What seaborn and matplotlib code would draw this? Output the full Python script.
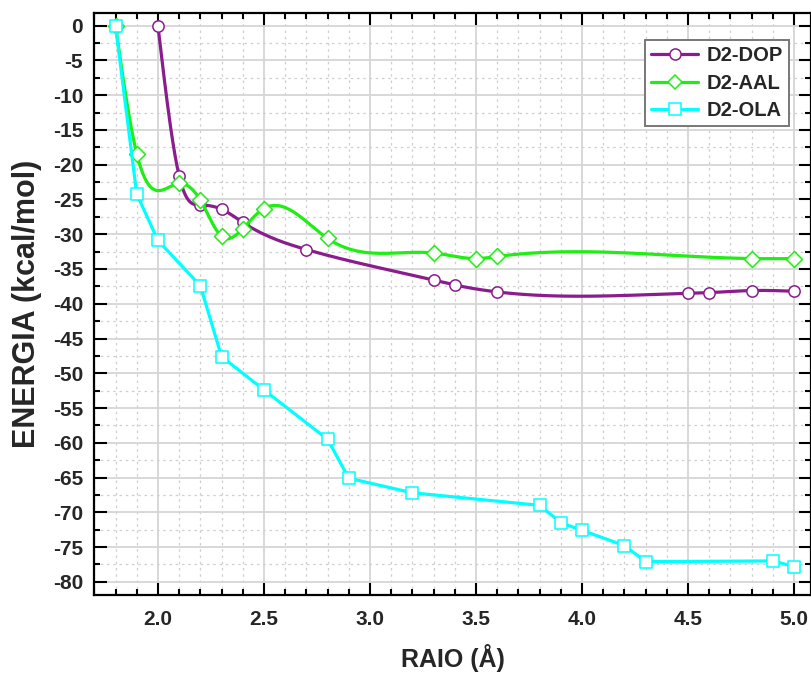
import numpy as np
import pandas as pd
import matplotlib
matplotlib.use("Agg")
import matplotlib.pyplot as plt
from matplotlib.ticker import MultipleLocator, FormatStrFormatter
from matplotlib.lines import Line2D
import seaborn as sns

# ---------------- data ----------------
dop_x = [2.0, 2.1, 2.2, 2.3, 2.4, 2.7, 3.3, 3.4, 3.6, 4.5, 4.6, 4.8, 5.0]
dop_y = [0.0, -21.6, -25.8, -26.4, -28.3, -32.2, -36.6, -37.3, -38.3, -38.5, -38.4, -38.1, -38.2]

aal_x = [1.8, 1.9, 2.1, 2.2, 2.3, 2.4, 2.5, 2.8, 3.3, 3.5, 3.6, 4.8, 5.0]
aal_y = [0.0, -18.4, -22.7, -25.1, -30.3, -29.2, -26.3, -30.6, -32.7, -33.5, -33.2, -33.5, -33.5]

ola_x = [1.8, 1.9, 2.0, 2.2, 2.3, 2.5, 2.8, 2.9, 3.2, 3.8, 3.9, 4.0, 4.2, 4.3, 4.9, 5.0]
ola_y = [0.0, -24.2, -30.9, -37.4, -47.6, -52.4, -59.5, -65.1, -67.2, -69.0, -71.5, -72.6, -74.8, -77.1, -77.0, -77.8]

series_names = ["D2-DOP", "D2-AAL", "D2-OLA"]
colors = ["#8A1C8E", "#1EEE12", "#00FFFF"]
markers = ["o", "D", "s"]

x_label = "RAIO (Å)"
y_label = "ENERGIA (kcal/mol)"


def natural_spline(x, y, n=600):
    x = np.asarray(x, float)
    y = np.asarray(y, float)
    m = len(x)
    h = np.diff(x)
    A = np.zeros((m, m))
    b = np.zeros(m)
    A[0, 0] = 1
    A[-1, -1] = 1
    for i in range(1, m - 1):
        A[i, i - 1] = h[i - 1]
        A[i, i] = 2 * (h[i - 1] + h[i])
        A[i, i + 1] = h[i]
        b[i] = 3 * ((y[i + 1] - y[i]) / h[i] - (y[i] - y[i - 1]) / h[i - 1])
    c = np.linalg.solve(A, b)
    bc = (y[1:] - y[:-1]) / h - h * (2 * c[:-1] + c[1:]) / 3
    d = (c[1:] - c[:-1]) / (3 * h)
    xs = np.linspace(x[0], x[-1], n)
    idx = np.clip(np.searchsorted(x, xs, side="right") - 1, 0, m - 2)
    dx = xs - x[idx]
    ys = y[idx] + bc[idx] * dx + c[idx] * dx ** 2 + d[idx] * dx ** 3
    return xs, ys


sns.set_style("ticks")
plt.rcParams["font.family"] = ["Liberation Sans", "DejaVu Sans"]
plt.rcParams["font.weight"] = "bold"

fig = plt.figure(figsize=(8.12, 6.75), dpi=100)
ax = fig.add_axes([94.3 / 812, 1 - 595 / 675, (811.5 - 94.3) / 812, (595 - 12.7) / 675])

# grid
ax.set_axisbelow(True)
ax.grid(which="major", color="#d6d6d6", linewidth=1.3, linestyle="-")
ax.grid(which="minor", color="#cfcfcf", linewidth=0.9, linestyle=(0, (2, 3)))

# smooth (spline) connectors for DOP and AAL, straight for OLA
sx, sy = natural_spline(dop_x, dop_y)
sns.lineplot(x=sx, y=sy, color=colors[0], linewidth=2.3, sort=False, ax=ax, zorder=2)
sns.scatterplot(x=dop_x, y=dop_y, marker="o", s=66, facecolor="white",
                edgecolor=colors[0], linewidth=1.1, ax=ax, zorder=3)

sx, sy = natural_spline(aal_x, aal_y)
sns.lineplot(x=sx, y=sy, color=colors[1], linewidth=2.3, sort=False, ax=ax, zorder=4)
sns.scatterplot(x=aal_x, y=aal_y, marker="D", s=66, facecolor="white",
                edgecolor=colors[1], linewidth=1.1, ax=ax, zorder=5)

sns.lineplot(x=ola_x, y=ola_y, color=colors[2], linewidth=2.3, sort=False, ax=ax, zorder=6)
sns.scatterplot(x=ola_x, y=ola_y, marker="s", s=72, facecolor="white",
                edgecolor=colors[2], linewidth=1.1, ax=ax, zorder=7)

ax.set_xlim(1.70, 5.082)
ax.set_ylim(-81.9, 1.87)

ax.xaxis.set_major_locator(MultipleLocator(0.5))
ax.xaxis.set_minor_locator(MultipleLocator(0.1))
ax.yaxis.set_major_locator(MultipleLocator(5))
ax.yaxis.set_minor_locator(MultipleLocator(2.5))
ax.xaxis.set_major_formatter(FormatStrFormatter("%.1f"))
ax.yaxis.set_major_formatter(FormatStrFormatter("%d"))

for s in ax.spines.values():
    s.set_linewidth(1.6)
    s.set_color("black")

ax.tick_params(which="both", direction="in", top=True, right=True, width=1.5, color="black")
ax.tick_params(which="major", length=9, labelsize=15)
ax.tick_params(axis="y", which="major", pad=8)
ax.tick_params(axis="x", which="major", pad=11)
ax.tick_params(which="minor", length=4.5)
for lab in ax.get_xticklabels() + ax.get_yticklabels():
    lab.set_fontweight("bold")

ax.set_xlabel(x_label, fontsize=18, fontweight="bold")
ax.set_ylabel(y_label, fontsize=22, fontweight="bold")
ax.xaxis.set_label_coords(0.5, -0.085)
ax.yaxis.set_label_coords(-0.073, 0.50)

handles = [Line2D([0], [0], color=c, lw=2.3, marker=m, markersize=ms,
                  markerfacecolor="white", markeredgecolor=c, markeredgewidth=1.1)
           for c, m, ms in zip(colors, markers, [8, 7.5, 8])]
leg = ax.legend(handles, series_names, loc="upper right", bbox_to_anchor=(0.969, 0.953),
                borderaxespad=0, frameon=True, fancybox=False, framealpha=1,
                edgecolor="#777777", handlelength=2.3, labelspacing=0.42,
                prop={"size": 14.5, "weight": "bold"}, borderpad=0.3, handletextpad=0.45)
leg.get_frame().set_linewidth(1.4)

fig.savefig("out.png", dpi=100)
